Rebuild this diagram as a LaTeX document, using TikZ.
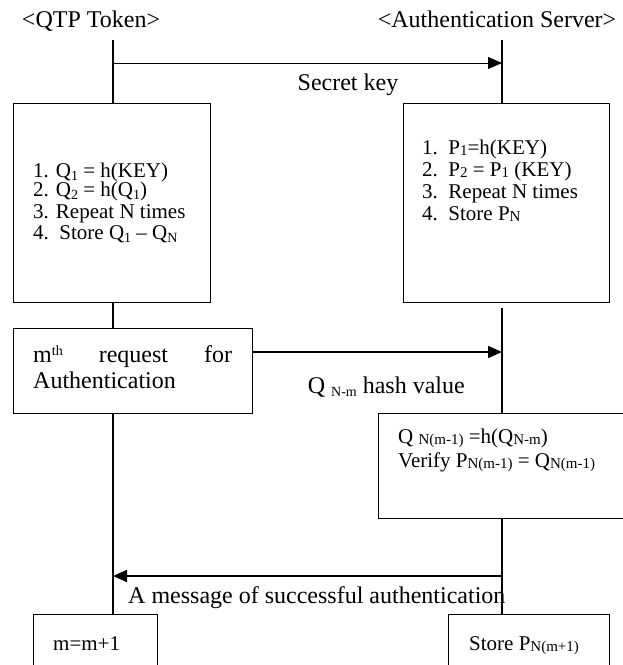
\documentclass[tikz,border=0pt]{standalone}
\usepackage{fontspec}
\setmainfont{Liberation Serif}
\usetikzlibrary{arrows.meta}
% small lowered index text, as in Q_1 or P_N
\newcommand\lowsub[1]{\raisebox{-3pt}{\fontsize{14}{14}\selectfont #1}}
\newcommand\flatsub[1]{\raisebox{-1.5pt}{\fontsize{15}{15}\selectfont #1}}
\newcommand\highsup[1]{\raisebox{7pt}{\fontsize{14}{14}\selectfont #1}}

\begin{document}
\begin{tikzpicture}[x=1pt,y=-1pt,
  box/.style={draw=black, line width=0.9pt, rectangle, inner sep=0pt},
  life/.style={line width=1.3pt},
  txt/.style={inner sep=0pt, anchor=west, text height=14pt, text depth=4pt,
              font=\fontsize{21}{24}\selectfont},
  bigtxt/.style={inner sep=0pt, text height=17pt, text depth=6pt,
              font=\fontsize{24}{28}\selectfont},
  thinmsg/.style={line width=0.8pt, -{Triangle[length=14pt,width=12pt]}},
  msg/.style={line width=1.6pt, -{Triangle[length=14pt,width=12pt]}},
]
\useasboundingbox (0,0) rectangle (623,665);
\clip (0,0) rectangle (623,665);

% participants
\node[bigtxt] (tok) at (91,22) {<QTP Token>};
\node[bigtxt] (srv) at (497,22) {<Authentication Server>};
\coordinate (Ltop) at (113,40);
\coordinate (Rtop) at (502,40);

% set-up boxes
\node[box, minimum width=197pt, minimum height=199pt] (tok1) at (111.5,202.5) {};
\node[box, minimum width=206pt, minimum height=199pt] (srv1) at (506,202.5) {};

\node[txt] (t1) at (33,172) {1. Q\lowsub{1} = h(KEY)};
\node[txt] (t2) at (33,191) {2. Q\lowsub{2} = h(Q\lowsub{1})};
\node[txt] (t3) at (33,213) {3. Repeat N times};
\node[txt] (t4) at (33,234) {4.\ \ Store Q\lowsub{1} -- Q\lowsub{N}};

\node[txt] (s1) at (422,149) {1.\ \ P\flatsub{1}=h(KEY)};
\node[txt] (s2) at (422,171) {2.\ \ P\flatsub{2} = P\flatsub{1} (KEY)};
\node[txt] (s3) at (422,193) {3.\ \ Repeat N times};
\node[txt] (s4) at (422,215) {4.\ \ Store P\flatsub{N}};

% request
\node[box, minimum width=239pt, minimum height=85pt] (req) at (132.5,370.5) {};
\node[bigtxt, anchor=west] (r1) at (33,357)
  {\hbox to 199pt{m\highsup{th}\hfill request\hfill for}};
\node[bigtxt, anchor=west] (r2) at (33,383) {Authentication};

% verification
\node[box, minimum width=272pt, minimum height=105pt] (ver) at (514,465.5) {};
\node[txt] (v1) at (398,438) {Q \flatsub{N(m-1)} =h(Q\flatsub{N-m})};
\node[txt] (v2) at (398,462) {Verify P\flatsub{N(m-1)} = Q\flatsub{N(m-1)}};

% final boxes
\node[box, minimum width=124pt, minimum height=86pt] (inc) at (95,657) {};
\node[box, minimum width=161pt, minimum height=86pt] (sto) at (528.5,657) {};
\node[txt] (i1) at (53,645) {m=m+1};
\node[txt] (st1) at (469,645) {Store P\flatsub{N(m+1)}};

% lifelines
\draw[life] (Ltop) -- (Ltop |- tok1.north);
\draw[life] (tok1.south -| Ltop) -- (req.north -| Ltop);
\draw[life] (req.south -| Ltop) -- (inc.north -| Ltop);
\coordinate (Rmid) at (502,308);
\draw[life] (Rtop) -- (Rtop |- srv1.north);
\draw[life] (Rmid) -- (ver.north -| Rmid);
\draw[life] (ver.south -| Rmid) -- (sto.north -| Rmid);

% messages
\coordinate (k0) at (113,63);
\coordinate (k1) at (502,63);
\draw[thinmsg] (k0) -- (k1);
\node[bigtxt] (klab) at (348,85) {Secret key};

\coordinate (q0) at (252,352);
\coordinate (q1) at (502,352);
\draw[msg] (q0) -- (q1);
\node[bigtxt, anchor=east] (qlab) at (465,388) {Q \lowsub{N-m} hash value};

\coordinate (a0) at (502,576);
\coordinate (a1) at (113,576);
\draw[msg] (a0) -- (a1);
\node[bigtxt, anchor=west] (alab) at (128,598) {A message of successful authentication};
\end{tikzpicture}
\end{document}
